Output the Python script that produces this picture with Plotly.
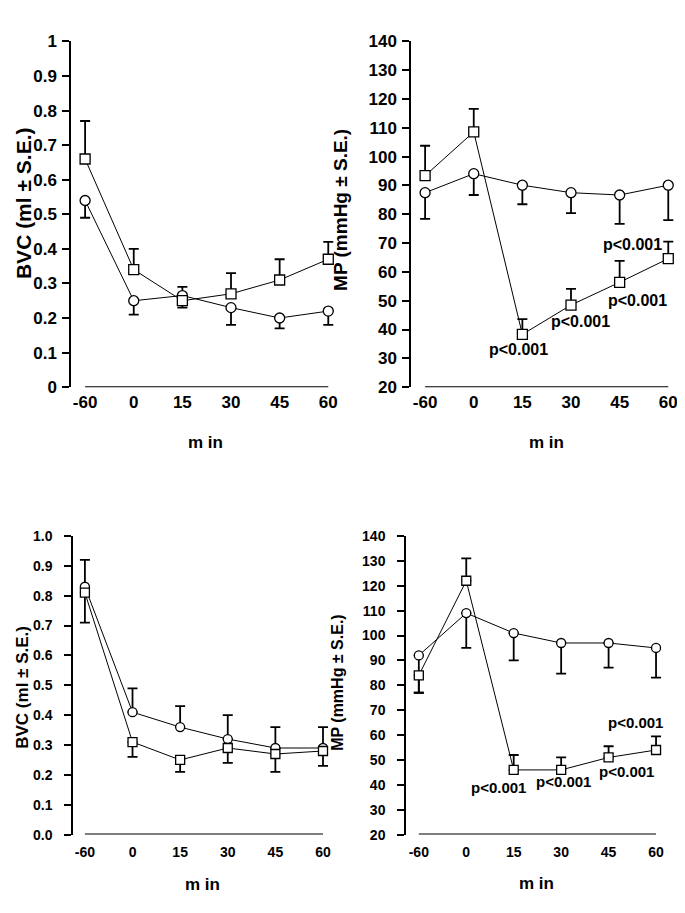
import plotly.graph_objs as go

# time points (min)
minutes = ["-60", "0", "15", "30", "45", "60"]

# top-left: BVC (ml ± S.E.)
a_circ = [0.54, 0.25, 0.265, 0.23, 0.20, 0.22]
a_circ_up = [0, 0, 0.025, 0, 0, 0]
a_circ_dn = [0.05, 0.04, 0, 0.05, 0.03, 0.04]
a_sq = [0.66, 0.34, 0.25, 0.27, 0.31, 0.37]
a_sq_up = [0.11, 0.06, 0, 0.06, 0.06, 0.05]
a_sq_dn = [0, 0, 0.02, 0, 0, 0]

# top-right: MP (mmHg ± S.E.)
b_circ = [87.5, 94.1, 90.1, 87.5, 86.7, 90.1]
b_circ_dn = [9.1, 7.4, 6.6, 7.1, 10.0, 12.1]
b_sq = [93.4, 108.6, 38.3, 48.5, 56.4, 64.6]
b_sq_up = [10.4, 8.0, 5.3, 5.6, 7.4, 5.9]

# bottom-left: BVC (ml ± S.E.)
c_circ = [0.83, 0.41, 0.36, 0.32, 0.29, 0.29]
c_circ_up = [0.09, 0.08, 0.07, 0.08, 0.07, 0.07]
c_sq = [0.81, 0.31, 0.25, 0.29, 0.27, 0.28]
c_sq_dn = [0.10, 0.05, 0.04, 0.05, 0.06, 0.05]

# bottom-right: MP (mmHg ± S.E.)
d_circ = [92, 109, 101, 97, 97, 95]
d_circ_dn = [15, 14, 11, 12.3, 9.9, 11.9]
d_sq = [84, 122, 46, 46, 51, 54]
d_sq_up = [0, 9, 6, 5, 4.5, 5.5]
d_sq_dn = [7, 0, 0, 0, 0, 0]

sig_label = "p<0.001"

W, H = 685, 913
FONT = "Liberation Sans, Arial, sans-serif"


def fx(p):
    return p / W


def fy(p):
    return 1 - p / H


fig = go.Figure()


def add_series(n, y, up, dn, symbol, size):
    fig.add_trace(go.Scatter(
        x=minutes, y=y, mode="lines+markers",
        xaxis="x%d" % n if n > 1 else "x",
        yaxis="y%d" % n if n > 1 else "y",
        line=dict(color="black", width=1),
        marker=dict(symbol=symbol, size=size, color="white",
                    line=dict(color="black", width=1.3)),
        error_y=dict(type="data", symmetric=False, array=up, arrayminus=dn,
                     color="black", thickness=1.8, width=5),
        showlegend=False, cliponaxis=False,
    ))


zeros = [0] * 6
add_series(1, a_circ, a_circ_up, a_circ_dn, "circle", 10)
add_series(1, a_sq, a_sq_up, a_sq_dn, "square", 10)
add_series(2, b_circ, zeros, b_circ_dn, "circle", 10)
add_series(2, b_sq, b_sq_up, zeros, "square", 10)
add_series(3, c_circ, c_circ_up, zeros, "circle", 9)
add_series(3, c_sq, zeros, c_sq_dn, "square", 9)
add_series(4, d_circ, zeros, d_circ_dn, "circle", 9)
add_series(4, d_sq, d_sq_up, d_sq_dn, "square", 9)

# panel geometry in pixels
panels = [
    # x0, x1, y_top, y_bottom, xrange, yrange, dtick, fontsize, fmt, x standoff, y standoff
    (63, 330, 25, 378, [-0.29, 5.2], [0, 1], 0.1, 17, ".1~f", 3, 2),
    (403, 670, 25, 378, [-0.29, 5.2], [20, 140], 10, 17, "d", 3, 2),
    (65, 325, 530, 835, [-0.25, 5.21], [0, 1], 0.1, 14, ".1f", 7, 9),
    (398, 658, 530, 835, [-0.27, 5.21], [20, 140], 10, 14, "d", 7, 9),
]

layout = dict(
    width=W, height=H, margin=dict(l=0, r=0, t=0, b=0),
    paper_bgcolor="white", plot_bgcolor="white",
    font=dict(family=FONT, color="black"),
    shapes=[], annotations=[],
)

for i, (x0, x1, yt, yb, xr, yr, dt, fs, fmt, xso, yso) in enumerate(panels, start=1):
    sfx = "" if i == 1 else str(i)
    layout["xaxis" + sfx] = dict(
        domain=[fx(x0), fx(x1)], range=xr, type="category",
        anchor="y" + sfx, showline=False, showgrid=False, zeroline=False,
        ticks="", tickfont=dict(size=fs, weight="bold"),
        ticklabelstandoff=xso,
    )
    layout["yaxis" + sfx] = dict(
        domain=[fy(yb), fy(yt)], range=yr, anchor="x" + sfx,
        showline=True, linecolor="black", linewidth=1.5,
        ticks="outside", ticklen=7, tickwidth=1.5, tickcolor="black",
        dtick=dt, tick0=0, tickformat=fmt, showgrid=False, zeroline=False,
        tickfont=dict(size=fs, weight="bold"),
        ticklabelstandoff=yso,
    )
    # detached baseline from first to last time point
    layout["shapes"].append(dict(
        type="line", xref="x" + sfx, yref="y" + sfx,
        x0=0, x1=5, y0=yr[0], y1=yr[0],
        line=dict(color="black", width=2),
    ))

# axis titles
titles = [
    ("BVC (ml ± S.E.)", 15, 190, 21),
    ("MP (mmHg ± S.E.)", 333, 197, 19),
    ("BVC (ml ± S.E.)", 15, 685, 17),
    ("MP (mmHg ± S.E.)", 330, 680, 16),
]
for txt, px, py, fs in titles:
    layout["annotations"].append(dict(
        text="<b>%s</b>" % txt, x=fx(px), y=fy(py), xref="paper", yref="paper",
        textangle=-90, showarrow=False, font=dict(size=fs),
        xanchor="center", yanchor="middle",
    ))

for px, py in [(197, 435), (538, 435), (194, 886), (528, 885)]:
    layout["annotations"].append(dict(
        text="<b>m in</b>", x=fx(px), y=fy(py), xref="paper", yref="paper",
        showarrow=False, font=dict(size=17),
        xanchor="center", yanchor="middle",
    ))

# significance labels
for ax, pts, fs in [
    ("2", [(1.92, 32.9), (3.2, 42.8), (4.37, 50.1), (4.27, 69.5)], 16),
    ("4", [(1.67, 39.0), (3.04, 41.2), (4.37, 45.5), (4.56, 64.9)], 15),
]:
    for xi, yv in pts:
        layout["annotations"].append(dict(
            text="<b>%s</b>" % sig_label, x=xi, y=yv,
            xref="x" + ax, yref="y" + ax, showarrow=False,
            font=dict(size=fs), xanchor="center", yanchor="middle",
        ))

fig.update_layout(**layout)
fig.write_html("out.html")
